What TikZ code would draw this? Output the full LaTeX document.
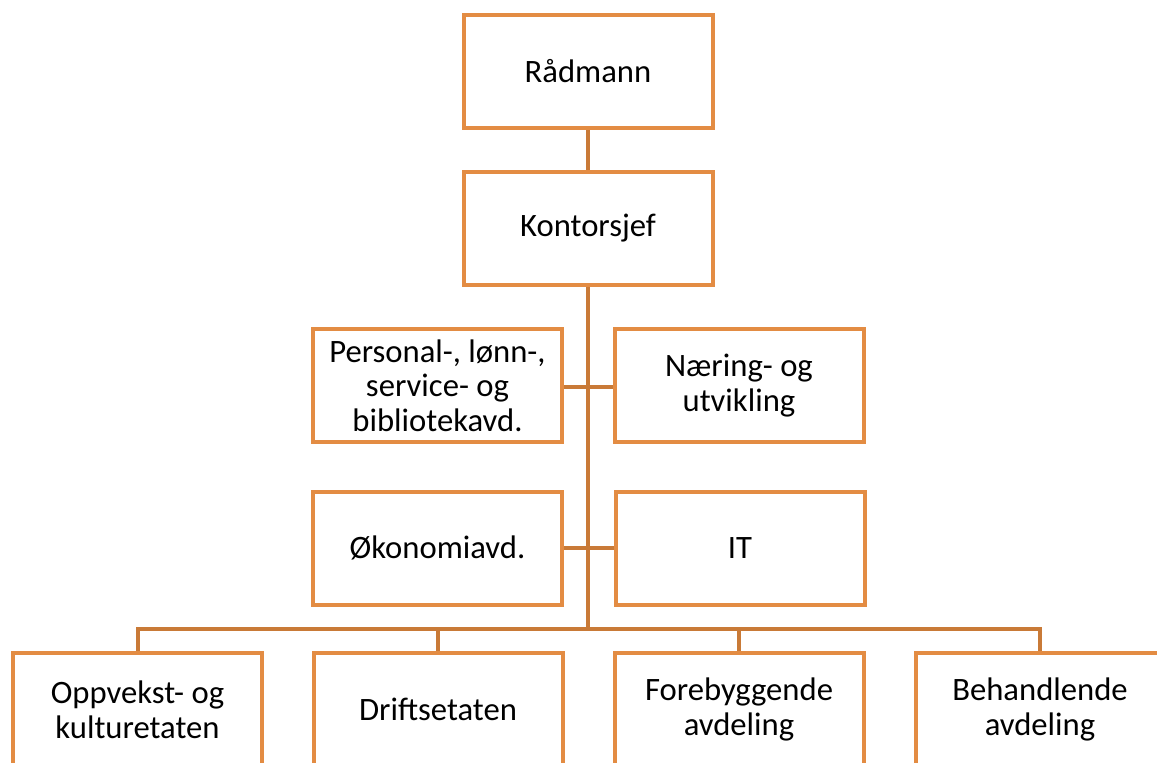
\documentclass[tikz,border=0pt]{standalone}
\usepackage{fontspec}
\setmainfont{Carlito}
\usepackage{xcolor}
\usetikzlibrary{positioning, calc}

\definecolor{boxorange}{HTML}{E38C43}
\definecolor{lineorange}{HTML}{C97A37}

\tikzset{
    unit/.style={draw=boxorange, line width=3pt, fill=white, align=center,
        minimum width=186.75pt, minimum height=84.75pt, inner sep=1pt,
        font=\fontsize{24.5}{26}\selectfont},
    link/.style={draw=lineorange, line width=3pt}
}

\begin{document}
\begin{tikzpicture}[x=0.75pt, y=-0.75pt]
    \useasboundingbox (0, 0) rectangle (1157, 763);
    \clip (0, 0) rectangle (1157, 763);

    % top
    \node[unit] (raad) at (588, 71.5) {Rådmann};
    \node[unit] (kont) at (588, 228.5) {Kontorsjef};

    % staff
    \node[unit] (pers) at (437.5, 385.5) {Personal-, lønn-,\\service- og\\bibliotekavd.};
    \node[unit] (naer) at (739, 385.5) {Næring- og\\utvikling};
    \node[unit] (okon) at (437.5, 548) {Økonomiavd.};
    \node[unit] (it) at (740, 548) {IT};

    % line units
    \node[unit] (opp) at (137.5, 709.5) {Oppvekst- og\\kulturetaten};
    \node[unit] (drift) at (438, 709.5) {Driftsetaten};
    \node[unit] (fore) at (739, 709.5) {Forebyggende\\avdeling};
    \node[unit] (beh) at (1040, 709.5) {Behandlende\\avdeling};

    \coordinate (bus) at (588, 629);

    \draw[link] (raad) -- (kont);
    \draw[link] (kont) -- (bus);
    \draw[link] (pers.east |- 0, 387) -- (naer.west |- 0, 387);
    \draw[link] (okon) -- (it);
    \draw[link] (opp.north) |- (bus) -| (beh.north);
    \draw[link] (drift.north) -- (drift.north |- bus);
    \draw[link] (fore.north) -- (fore.north |- bus);
\end{tikzpicture}
\end{document}
